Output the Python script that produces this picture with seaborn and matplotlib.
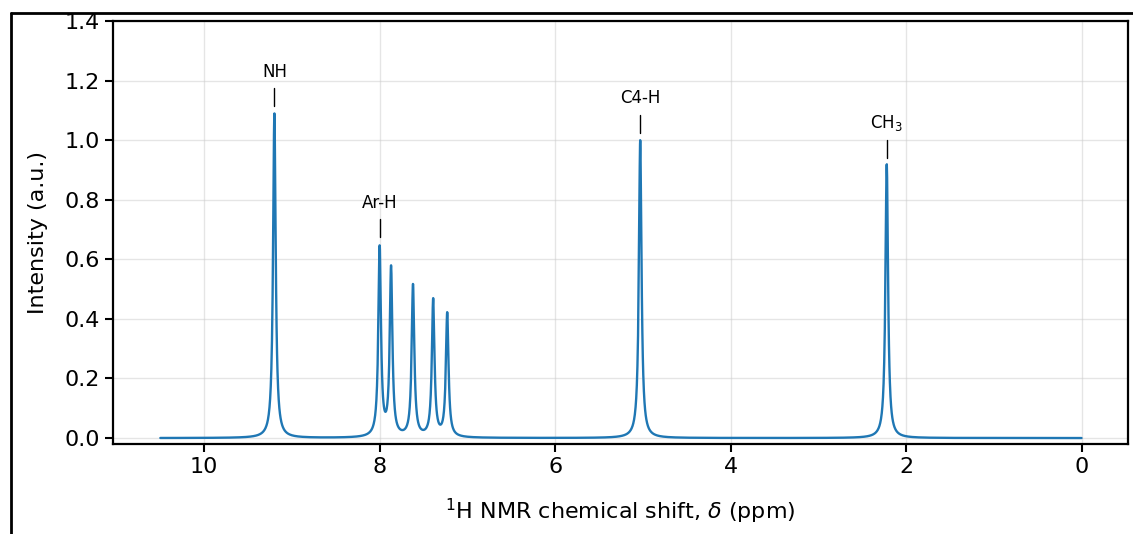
import numpy as np
import pandas as pd
import matplotlib
import matplotlib.pyplot as plt
from matplotlib.lines import Line2D
import seaborn as sns

matplotlib.use("Agg")

# Peak list (ppm, height)
shifts = [9.20, 8.00, 7.87, 7.62, 7.39, 7.23, 5.03, 2.22]
heights = [1.09, 0.635, 0.565, 0.51, 0.46, 0.415, 1.00, 0.92]
hwhm = 0.018

# Labelled peaks
labels = ["NH", "Ar-H", "C4-H", "CH$_3$"]
label_shift = [9.20, 8.00, 5.03, 2.22]
label_height = [1.10, 0.66, 1.01, 0.925]

c_line = "#1f77b4"

# Build the spectrum from the peak list (Lorentzian line shapes)
ppm = np.linspace(0, 10.5, 6000)
intensity = np.zeros_like(ppm)
for s, h in zip(shifts, heights):
    intensity += h * hwhm**2 / ((ppm - s)**2 + hwhm**2)
df = pd.DataFrame({"ppm": ppm, "intensity": intensity})

sns.set_style("ticks", {"text.color": "black", "axes.labelcolor": "black",
                        "xtick.color": "black", "ytick.color": "black",
                        "axes.edgecolor": "black"})
fig = plt.figure(figsize=(11.33, 5.34), dpi=100)
ax = fig.add_axes([0.0997, 0.1685, 0.8959, 0.7922])

sns.lineplot(data=df, x="ppm", y="intensity", color=c_line, linewidth=1.7, ax=ax)

for lab, s, h in zip(labels, label_shift, label_height):
    ax.plot([s, s], [h + 0.015, h + 0.075], color="black", linewidth=1.0)
    ax.text(s, h + 0.10, lab, ha="center", va="bottom", fontsize=12)

ax.set_xlim(11.04, -0.53)
ax.set_ylim(-0.02, 1.4)
ax.set_xticks([10, 8, 6, 4, 2, 0])
ax.set_yticks(np.arange(0, 1.41, 0.2))
ax.grid(True, color="#cccccc", alpha=0.5, linewidth=1.0)
ax.tick_params(labelsize=16, width=1.5, length=6)
for sp in ax.spines.values():
    sp.set_linewidth(1.6)
ax.set_xlabel(r"$^{1}$H NMR chemical shift, $\delta$ (ppm)", fontsize=16, labelpad=14)
ax.set_ylabel("Intensity (a.u.)", fontsize=16, labelpad=12)

# outer frame (top and left edges visible)
fig.add_artist(Line2D([0.0097, 1.0], [0.9757, 0.9757], color="black", linewidth=2))
fig.add_artist(Line2D([0.0097, 0.0097], [0.9757, 0.0], color="black", linewidth=2))

fig.savefig("out.png", dpi=100)
